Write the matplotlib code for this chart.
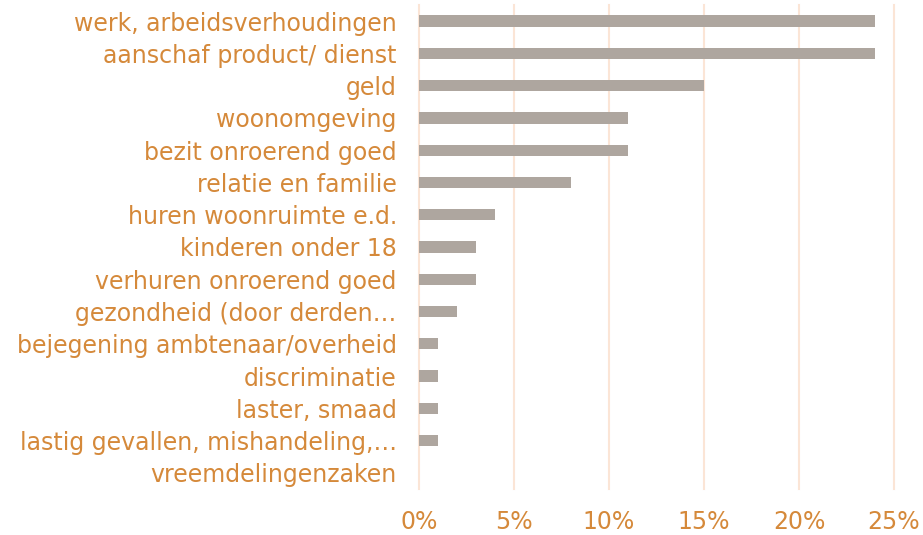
import matplotlib.pyplot as plt
import numpy as np

labels = ['werk, arbeidsverhoudingen', 'aanschaf product/ dienst', 'geld',
          'woonomgeving', 'bezit onroerend goed', 'relatie en familie',
          'huren woonruimte e.d.', 'kinderen onder 18', 'verhuren onroerend goed',
          'gezondheid (door derden…', 'bejegening ambtenaar/overheid',
          'discriminatie', 'laster, smaad', 'lastig gevallen, mishandeling,…',
          'vreemdelingenzaken']
values = [24, 24, 15, 11, 11, 8, 4, 3, 3, 2, 1, 1, 1, 1, 0]
xticks = [0, 5, 10, 15, 20, 25]

orange = '#D5893A'

fig = plt.figure(figsize=(9.23, 5.35), dpi=100)
ax = fig.add_axes([0.454, 0.086, 0.5146, 0.9047])

y = np.arange(len(labels))
ax.barh(y, values, height=0.35, color='#AEA69F', zorder=3)

ax.set_ylim(len(labels) - 0.5, -0.5)
ax.set_xlim(0, 25)
ax.set_yticks(y)
ax.set_yticklabels(labels)
ax.set_xticks(xticks)
ax.set_xticklabels([f'{t}%' for t in xticks])
ax.tick_params(axis='both', length=0, labelsize=17, labelcolor=orange)
ax.tick_params(axis='y', pad=16)
ax.tick_params(axis='x', pad=15)

ax.grid(axis='x', color='#FBE5D6', linewidth=1.5, zorder=0)
for gl in ax.get_xgridlines():
    gl.set_clip_on(False)
for s in ax.spines.values():
    s.set_visible(False)

fig.savefig('out.png', dpi=100)
